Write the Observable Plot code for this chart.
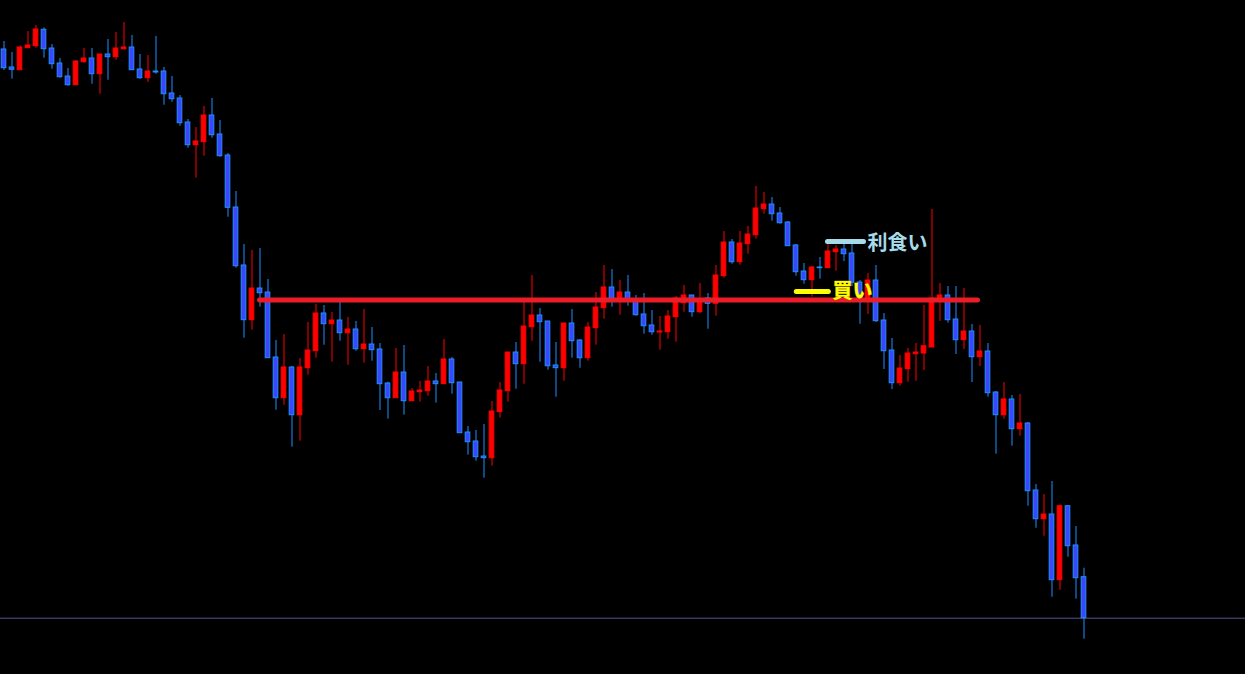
<!DOCTYPE html>
<html>
<head>
<meta charset="utf-8">
<script src="https://cdn.jsdelivr.net/npm/d3@7"></script>
<script src="https://cdn.jsdelivr.net/npm/@observablehq/plot@0.6"></script>
<style>
  html, body { margin: 0; padding: 0; background: #000; overflow: hidden; }
  #chart svg { display: block; }
</style>
</head>
<body>
<div id="chart"></div>
<script>
// OHLC series (arbitrary price units, higher = up)
const openP = [651,633,630.3,652.3,654.3,670.7,652,637,624,615.3,638.3,642,626.3,646,643.3,651.3,653,631,622.3,629,
  629,607,602,578,555.3,558.3,585,566,545,493,435,380.3,412,408,343,302.3,333,285.3,332.3,349.3,
  387,376.3,380,367.3,371,351.3,356,351,317,302.3,328,299.3,308.3,309.3,319,316.3,341,318,268,259,
  244,242.3,288.3,309.3,348,336.3,373.3,385,379,335,332.3,377,360,342.3,372.3,392.3,413,400,408,401,
  386,375,368,368.3,383.3,397.3,405,388.3,402,396.7,424.3,458,438.3,456.3,465.3,491.3,496,487,478,455,
  429,420.3,433,432.3,448.3,451,447,418,400,420,380,350,317.3,331.3,346.3,347,353,399,405,381,
  360.3,369,343.3,349,308,285.3,301,271.3,277,210,181.3,186,120.3,194.3,155,123.3];
const highP = [659,648,654.7,669,675,672.7,656,642,632,639.7,652,652,646,661,668,678,665,646,645,664,
  633,624,605,581,573,594,602,580,547,509,456,450,452,421,360,366,334,342,378,396,
  395,388,398,383,379,391,373,357,318.3,352,355,312,319,334,327,361,343,318,274,270,
  276,299,318,348,358,400,425,392,379,358,377,391,361,378,408,435,431,420,425,405,
  407,390,384,390,404,415,405,417,407,435,469,461,469,474,514,508,503,493,479,456,
  437,434,443,457,455,457,457,420,427,435,387,362,345,352,357,395,491,417,414,414,
  412,376,375,357,309,318,305,306,278,216,206,219,195.3,194.3,174,132.3];
const lowP = [630,621.3,630.3,652.3,652.3,642.3,631.3,622.3,614.3,615.3,637.3,616.3,606.3,620.3,640.3,650.3,630.3,621.3,618,626.3,
  595.3,598.3,574.3,552.3,522.3,544.3,562.3,543.3,483.3,432.3,362.3,370.3,393.3,342.3,290.3,295.3,253.3,259.3,325.3,342.3,
  355.3,338.3,359.3,335.3,349.3,337.3,339.3,290,281.3,302.3,285.3,299.3,298.3,304.3,297.3,316.3,306.3,267.3,245.3,239.3,
  222.3,234.3,282.3,298.3,311.3,316.3,359.3,338.3,330.3,303.3,319.3,342.3,332.3,339.3,355.3,381.3,393.3,385.3,394.3,384.3,
  366.3,365.3,350.3,361.3,358.3,388.3,383.3,386.7,371.3,384.3,422.3,436.3,435.3,446.3,461.3,486.3,479.3,476.3,454.3,424.3,
  416.3,403.3,421.3,432.3,429.3,439,414,376.3,386,378,331,311,314.3,318.3,319.3,330,353,379,377.3,346,
  351,318,334,303.3,246.3,281.3,254.3,264.3,194.3,172.3,164.3,103.3,110.3,143.3,101.3,61.3];
const closeP = [632.3,630.7,653,655,671,651.3,636.3,623.3,615.3,639,642,626.3,646,643.3,652,653,630.3,622.3,629,628,
  606.3,601.3,577.3,555.3,559,585,565.3,544.3,492.7,434.3,380.3,412,407.3,342.3,302.3,333,285.3,333,350,387,
  376.3,380,367.3,371,351.3,356,350.3,316.3,302.3,328,299.3,309,310,319,316.3,341,317.3,267.3,258.3,243.3,
  242.3,289,310,348,336.3,374,385,378.3,334.3,332.3,377,359.3,342.3,373,393,413,402,408,400,385.3,
  374.3,368.3,369,384,402,405,388.3,401,396.7,425,458,438.3,457,466,492,496,486.3,477.3,454.3,428.3,
  420.3,433,432.3,449,451,446.3,417.7,400,420,379.3,349.3,317.3,332,347,348,354.3,402,405,380.3,360.3,
  369,343.3,349,307.3,285.3,301,271.3,277,209.3,181.3,186,120.3,194.3,154.3,122.3,82.3];

// annotation levels (same price units) and their candle-index spans
const entryLevel = 400.5;          // red horizontal level
const entrySpan = [32.0, 121.75];
const buyLevel = 409;              // yellow marker
const buySpan = [99.1, 103.1];
const buyLabel = "買い";
const buyLabelX = 103.56;
const takeProfitLevel = 459;       // light-blue marker
const takeProfitSpan = [103.0, 107.5];
const takeProfitLabel = "利食い";
const takeProfitLabelX = 107.94;

const data = openP.map((o, i) => ({i, o, h: highP[i], l: lowP[i], c: closeP[i], up: closeP[i] > o}));
const ups = data.filter(d => d.up);
const downs = data.filter(d => !d.up);
const last = data[data.length - 1];
const hw = 0.29;

const chart = Plot.plot({
  width: 1245,
  height: 674,
  margin: 0,
  x: {type: "linear", domain: [-0.4375, 155.1875], axis: null},
  y: {domain: [26, 700], axis: null},
  style: {background: "#000", overflow: "visible"},
  marks: [
    Plot.ruleY([last.c], {stroke: "#5c4f90", strokeWidth: 1}),
    Plot.ruleX(ups, {x: "i", y1: "l", y2: "h", stroke: "#ff0000", strokeWidth: 1}),
    Plot.ruleX(downs, {x: "i", y1: "l", y2: "h", stroke: "#1e90ff", strokeWidth: 1}),
    Plot.rect(ups, {x1: d => d.i - hw, x2: d => d.i + hw, y1: "o", y2: "c", fill: "#ff0000", stroke: "#ff0000", strokeWidth: 1}),
    Plot.rect(downs, {x1: d => d.i - hw, x2: d => d.i + hw, y1: "o", y2: "c", fill: "#3c46ff", stroke: "#1e90ff", strokeWidth: 1}),
    Plot.ruleY([entryLevel], {x1: entrySpan[0], x2: entrySpan[1], stroke: "#ec1c28", strokeWidth: 5, strokeLinecap: "round"}),
    Plot.ruleY([buyLevel], {x1: buySpan[0], x2: buySpan[1], stroke: "#ffff00", strokeWidth: 5, strokeLinecap: "round"}),
    Plot.ruleY([takeProfitLevel], {x1: takeProfitSpan[0], x2: takeProfitSpan[1], stroke: "#a6dcea", strokeWidth: 5, strokeLinecap: "round"}),
    Plot.text([buyLabel], {x: buyLabelX, y: buyLevel, text: d => d, fill: "#ffff00", stroke: "#d0a000", strokeWidth: 0.6,
      fontSize: 20, fontWeight: "bold", fontFamily: "Noto Sans CJK JP", textAnchor: "start"}),
    Plot.text([takeProfitLabel], {x: takeProfitLabelX, y: takeProfitLevel, text: d => d, fill: "#a6dcea",
      fontSize: 20, fontWeight: "bold", fontFamily: "Noto Sans CJK JP", textAnchor: "start", dy: 2})
  ]
});
document.getElementById("chart").appendChild(chart);
</script>
</body>
</html>
